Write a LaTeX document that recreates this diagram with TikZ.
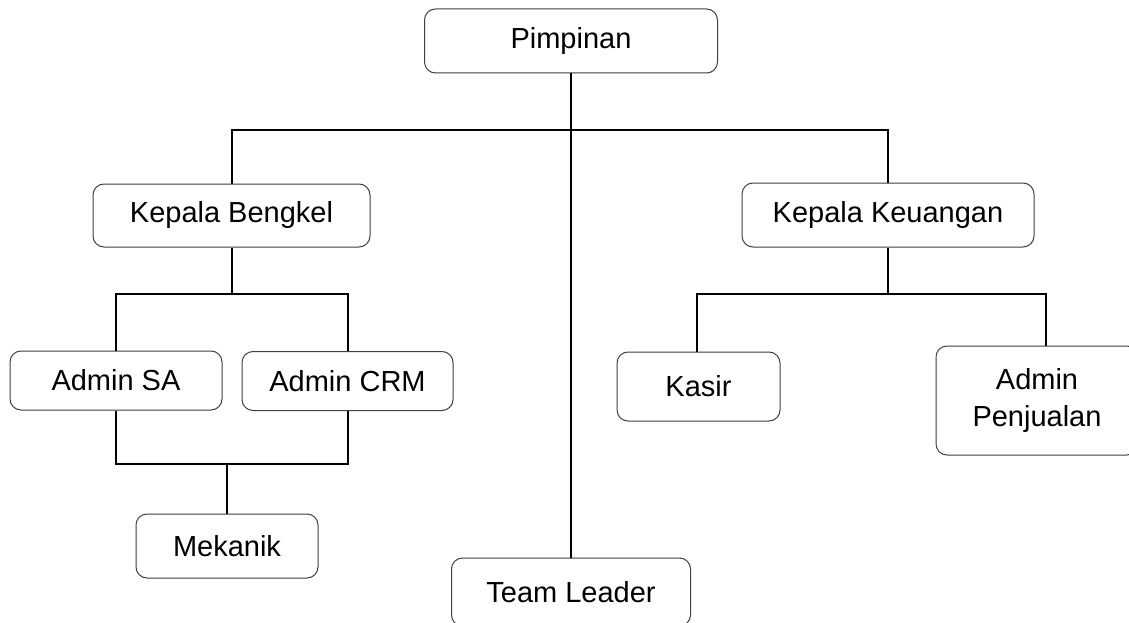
\documentclass[tikz,border=0pt]{standalone}
\usepackage{fontspec}
\setmainfont{Liberation Sans}
\begin{document}
\begin{tikzpicture}[x=1pt,y=-1pt,
  box/.style={draw=black!75, line width=1pt, rounded corners=11pt, inner sep=0pt,
    align=center, font=\fontsize{29}{37}\selectfont, text=black},
  link/.style={draw=black, line width=2pt}]
\useasboundingbox (0,0) rectangle (1129,623);
\fill[white] (0,0) rectangle (1129,623);
\node[box, minimum width=293pt, minimum height=64pt] (pim) at (571,41) {Pimpinan};
\node[box, minimum width=277pt, minimum height=63pt] (kb) at (231.5,215.5) {Kepala Bengkel};
\node[box, minimum width=292pt, minimum height=64pt] (kk) at (888,215) {Kepala Keuangan};
\node[box, minimum width=212pt, minimum height=59pt] (asa) at (116,380.5) {Admin SA};
\node[box, minimum width=211pt, minimum height=59pt] (acrm) at (347.5,381) {Admin CRM};
\node[box, minimum width=163pt, minimum height=69pt] (kasir) at (698.5,386.5) {Kasir};
\node[box, minimum width=202pt, minimum height=109pt] (ap) at (1037,400.5) {Admin\\Penjualan};
\node[box, minimum width=182pt, minimum height=64pt] (mek) at (227,546) {Mekanik};
\node[box, minimum width=239pt, minimum height=68pt] (tl) at (571,592) {Team Leader};
\coordinate (b1) at (0,130.5);
\coordinate (b2) at (0,294);
\coordinate (b3) at (0,464);
\coordinate (apin) at ([xshift=9pt]ap.north);
% top level
\draw[link] (pim.south) -- (tl.north);
\draw[link] (kb.north) -- (kb.north |- b1) -- (kk.north |- b1) -- (kk.north);
% bengkel branch
\draw[link] (kb.south) -- (kb.south |- b2);
\draw[link] (asa.north) -- (asa.north |- b2) -- (acrm.north |- b2) -- (acrm.north);
\draw[link] (asa.south) -- (asa.south |- b3) -- (acrm.south |- b3) -- (acrm.south);
\draw[link] (mek.north) -- (mek.north |- b3);
% keuangan branch
\draw[link] (kk.south) -- (kk.south |- b2);
\draw[link] ([xshift=-1.5pt]kasir.north) -- ([xshift=-1.5pt]kasir.north |- b2) -- (apin |- b2) -- (apin);
\end{tikzpicture}
\end{document}
